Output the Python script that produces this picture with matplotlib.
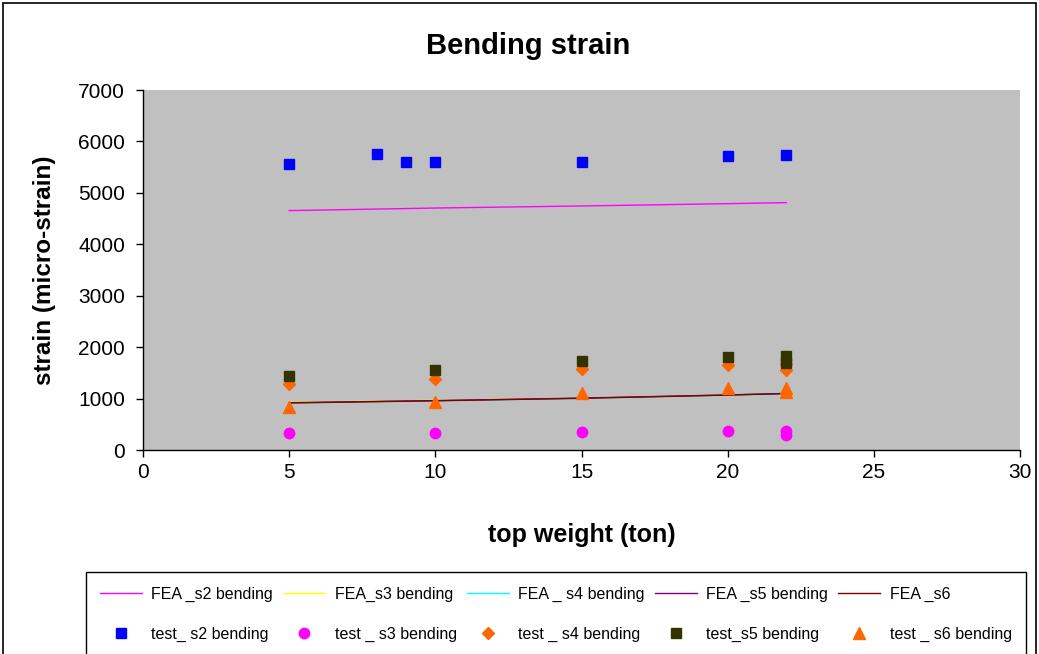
import matplotlib
matplotlib.use('Agg')
import matplotlib.pyplot as plt
from matplotlib.patches import Rectangle

plt.rcParams['font.family'] = ['Liberation Sans', 'DejaVu Sans']

# FEA results (lines)
fea_x = [5, 10, 15, 20, 22]
fea_s2 = [4655, 4705, 4745, 4790, 4810]
fea_s3 = [930, 965, 1010, 1065, 1095]
fea_s4 = [915, 955, 1005, 1065, 1085]
fea_s5 = [920, 960, 1010, 1070, 1100]
fea_s6 = [915, 958, 1005, 1068, 1098]

# test measurements (markers)
test_s2_x = [5, 8, 9, 10, 15, 20, 22]
test_s2 = [5570, 5760, 5600, 5600, 5600, 5715, 5735]
test_x = [5, 10, 15, 20, 22, 22]
test_s3 = [325, 340, 355, 375, 370, 290]
test_s4 = [1280, 1375, 1570, 1650, 1680, 1560]
test_s5 = [1445, 1555, 1735, 1815, 1835, 1690]
test_s6 = [845, 940, 1115, 1210, 1210, 1130]

fig = plt.figure(figsize=(10.39, 6.54), dpi=100)
ax = fig.add_axes([143 / 1039, 1 - 450 / 654, (1020 - 143) / 1039, 360 / 654])
ax.set_facecolor('#C0C0C0')

l2, = ax.plot(fea_x, fea_s2, color='#FF00FF', lw=1.0, label='FEA _s2 bending', zorder=2)
l3, = ax.plot(fea_x, fea_s3, color='#FFFF00', lw=1.0, label='FEA_s3 bending', zorder=2)
l4, = ax.plot(fea_x, fea_s4, color='#00FFFF', lw=1.0, label='FEA _ s4 bending', zorder=2)
l5, = ax.plot(fea_x, fea_s5, color='#800080', lw=1.0, label='FEA _s5 bending', zorder=2)
l6, = ax.plot(fea_x, fea_s6, color='#800000', lw=1.0, label='FEA _s6', zorder=2)

m2, = ax.plot(test_s2_x, test_s2, ls='none', marker='s', ms=7.5, color='#0000FF', label='test_ s2 bending', zorder=3)
m3, = ax.plot(test_x, test_s3, ls='none', marker='o', ms=7.5, color='#FF00FF', label='test _ s3 bending', zorder=3)
m4, = ax.plot(test_x, test_s4, ls='none', marker='D', ms=6, color='#FF6600', label='test _ s4 bending', zorder=3)
m5, = ax.plot(test_x, test_s5, ls='none', marker='s', ms=7.5, color='#333300', label='test_s5 bending', zorder=4)
m6, = ax.plot(test_x, test_s6, ls='none', marker='^', ms=8.5, color='#FF6600', label='test _ s6 bending', zorder=3)

ax.set_xlim(0, 30)
ax.set_ylim(0, 7000)
ax.set_xticks(range(0, 31, 5))
ax.set_yticks(range(0, 7001, 1000))
ax.tick_params(labelsize=15, length=5, width=1, direction='out', pad=4)
ax.tick_params(axis='y', pad=8)
for side in ['top', 'right']:
    ax.spines[side].set_visible(False)
for side in ['left', 'bottom']:
    ax.spines[side].set_color('black')
    ax.spines[side].set_linewidth(1.0)

ax.set_xlabel('top weight (ton)', fontsize=18, fontweight='bold', labelpad=30)
ax.set_ylabel('strain (micro-strain)', fontsize=17.5, fontweight='bold', labelpad=16)
fig.text(528 / 1039, 1 - 46 / 654, 'Bending strain', fontsize=21, fontweight='bold',
         ha='center', va='center')

# legend: FEA lines on top row, test markers below
handles = [l2, m2, l3, m3, l4, m4, l5, m5, l6, m6]
leg = fig.legend(handles, [h.get_label() for h in handles], ncol=5,
                 loc='upper left', bbox_to_anchor=(86 / 1039, -0.02, 940 / 1039, 1 - 572 / 654 + 0.02),
                 mode='expand', borderaxespad=0, fontsize=11.5, labelspacing=1.6,
                 borderpad=0.9, handlelength=2.6, handletextpad=0.6, fancybox=False,
                 edgecolor='black', framealpha=1)
leg.get_frame().set_linewidth(1.0)

# outer chart border
fig.patches.append(Rectangle((3 / 1039, -0.05), 1033 / 1039, 1.05 - 3 / 654, transform=fig.transFigure,
                             fill=False, edgecolor='black', lw=1.2))

fig.savefig('out.png', dpi=100)
